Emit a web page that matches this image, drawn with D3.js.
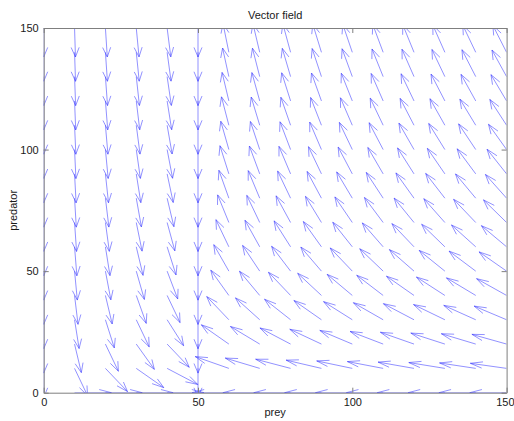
<!DOCTYPE html>
<html><head><meta charset="utf-8">
<script src="https://cdn.jsdelivr.net/npm/d3@7/dist/d3.min.js"></script>
<style>
body{margin:0;background:#fff}
text{font-family:"Liberation Sans",Arial,Helvetica,sans-serif}
</style>
</head><body>
<svg id="chart" width="514" height="421"></svg>
<script>
// grid of the vector field
const preyValues = [0,10,20,30,40,50,60,70,80,90,100,110,120,130,140,150];
const predatorValues = [0,10,20,30,40,50,60,70,80,90,100,110,120,130,140,150];
const xTickValues = [0,50,100,150];
const yTickValues = [0,50,100,150];
// arrow direction (degrees, data space) at each grid point; one row per predator value, columns per prey value
const dirRow0   = [null,0,0,0,0,null,180,180,180,180,180,180,180,180,180,180];
const dirRow10  = [-90,-69.4,-53.1,-41.6,-33.7,-90,156.0,159.2,161.6,163.5,165.1,166.4,167.5,168.4,169.2,169.9];
const dirRow20  = [-90,-79.4,-69.4,-60.6,-53.1,-90,138.4,142.7,146.3,149.3,151.9,154.1,156.0,157.7,159.1,160.4];
const dirRow30  = [-90,-82.9,-76.0,-69.4,-63.4,-90,126.9,131.2,135.0,138.4,141.3,144.0,146.3,148.4,150.3,151.9];
const dirRow40  = [-90,-84.6,-79.4,-74.3,-69.4,-90,119.4,123.3,126.9,130.2,133.2,135.9,138.4,140.6,142.7,144.6];
const dirRow50  = [-90,-85.7,-81.5,-77.3,-73.3,-90,114.2,117.7,121.0,124.0,126.9,129.5,132.0,134.3,136.4,138.4];
const dirRow60  = [-90,-86.4,-82.9,-79.4,-76.0,-90,110.6,113.6,116.6,119.4,122.0,124.5,126.9,129.1,131.2,133.2];
const dirRow70  = [-90,-86.9,-83.9,-80.9,-77.9,-90,107.8,110.6,113.2,115.7,118.2,120.5,122.7,124.9,126.9,128.8];
const dirRow80  = [-90,-87.3,-84.6,-82.0,-79.4,-90,105.7,108.2,110.6,112.9,115.1,117.3,119.4,121.4,123.3,125.1];
const dirRow90  = [-90,-87.6,-85.2,-82.9,-80.5,-90,104.0,106.3,108.4,110.6,112.6,114.6,116.6,118.4,120.3,122.0];
const dirRow100 = [-90,-87.9,-85.7,-83.6,-81.5,-90,102.7,104.7,106.7,108.6,110.6,112.4,114.2,116.0,117.7,119.4];
const dirRow110 = [-90,-88.0,-86.1,-84.2,-82.2,-90,101.6,103.4,105.3,107.1,108.8,110.6,112.2,113.9,115.5,117.1];
const dirRow120 = [-90,-88.2,-86.4,-84.6,-82.9,-90,100.6,102.3,104.0,105.7,107.4,109.0,110.6,112.1,113.6,115.1];
const dirRow130 = [-90,-88.3,-86.7,-85.1,-83.4,-90,99.8,101.4,103.0,104.6,106.1,107.6,109.1,110.6,112.0,113.4];
const dirRow140 = [-90,-88.5,-86.9,-85.4,-83.9,-90,99.1,100.6,102.1,103.6,105.0,106.4,107.8,109.2,110.6,111.9];
const dirRow150 = [-90,-88.6,-87.1,-85.7,-84.3,-90,98.5,99.9,101.3,102.7,104.0,105.4,106.7,108.0,109.3,110.6];
const directionRows = [dirRow0,dirRow10,dirRow20,dirRow30,dirRow40,dirRow50,dirRow60,dirRow70,
  dirRow80,dirRow90,dirRow100,dirRow110,dirRow120,dirRow130,dirRow140,dirRow150];
const arrowLength = 11.93;   // data units (normalized vectors, quiver autoscale)
const headAlpha = 0.33, headBeta = 0.33;

const svg = d3.select("#chart");
const plotLeft = 43.7, plotRight = 506.6, plotTop = 28, plotBottom = 392.7;
const x = d3.scaleLinear().domain([0,150]).range([plotLeft,plotRight]);
const y = d3.scaleLinear().domain([0,150]).range([plotBottom,plotTop]);

svg.append("defs").append("clipPath").attr("id","clip")
  .append("rect").attr("x",plotLeft).attr("y",plotTop).attr("width",plotRight-plotLeft).attr("height",plotBottom-plotTop);

// arrows
const arrows = [];
predatorValues.forEach((py,j)=>{
  preyValues.forEach((px,i)=>{
    const a = directionRows[j][i];
    if (a === null) return;
    const r = a*Math.PI/180;
    const u = arrowLength*Math.cos(r), v = arrowLength*Math.sin(r);
    const tx = px+u, ty = py+v;
    const b1x = tx - headAlpha*(u + headBeta*v), b1y = ty - headAlpha*(v - headBeta*u);
    const b2x = tx - headAlpha*(u - headBeta*v), b2y = ty - headAlpha*(v + headBeta*u);
    arrows.push(`M${x(px)},${y(py)}L${x(tx)},${y(ty)}M${x(b1x)},${y(b1y)}L${x(tx)},${y(ty)}L${x(b2x)},${y(b2y)}`);
  });
});
svg.append("g").attr("clip-path","url(#clip)")
  .selectAll("path").data(arrows).join("path")
  .attr("d",d=>d).attr("fill","none")
  .attr("stroke","#3c3cff").attr("stroke-width",0.7).attr("stroke-opacity",0.8);

// axes
const axisColor = "#7f7f7f";
const gB = svg.append("g").attr("transform",`translate(0,${plotBottom})`)
  .call(d3.axisBottom(x).tickValues(xTickValues).tickSizeInner(-5).tickSizeOuter(0).tickPadding(6).tickFormat(d3.format("d")));
const gT = svg.append("g").attr("transform",`translate(0,${plotTop})`)
  .call(d3.axisTop(x).tickValues(xTickValues).tickSizeInner(-5).tickSizeOuter(0).tickFormat(""));
const gL = svg.append("g").attr("transform",`translate(${plotLeft},0)`)
  .call(d3.axisLeft(y).tickValues(yTickValues).tickSizeInner(-5).tickSizeOuter(0).tickPadding(5).tickFormat(d3.format("d")));
const gR = svg.append("g").attr("transform",`translate(${plotRight},0)`)
  .call(d3.axisRight(y).tickValues(yTickValues).tickSizeInner(-5).tickSizeOuter(0).tickFormat(""));
[gB,gT,gL,gR].forEach(g=>{
  g.select(".domain").attr("stroke",axisColor).attr("stroke-width",1);
  g.selectAll(".tick line").attr("stroke",axisColor);
  g.selectAll(".tick text").attr("fill","#1a1a1a").style("font-size","11px")
    .style("font-family","'Liberation Sans',Arial,sans-serif");
});
// keep the last x tick label inside the window, as in the reference
gB.selectAll(".tick text").filter(d=>d===150).attr("text-anchor","end").attr("dx","7.4");

// titles
svg.append("text").attr("x",(plotLeft+plotRight)/2).attr("y",19).attr("text-anchor","middle")
  .attr("fill","#1a1a1a").style("font-size","11px").text("Vector field");
svg.append("text").attr("x",(plotLeft+plotRight)/2).attr("y",416).attr("text-anchor","middle")
  .attr("fill","#1a1a1a").style("font-size","11px").text("prey");
svg.append("text").attr("transform",`translate(17,${(plotTop+plotBottom)/2}) rotate(-90)`).attr("text-anchor","middle")
  .attr("fill","#1a1a1a").style("font-size","11px").text("predator");
</script>
</body></html>
